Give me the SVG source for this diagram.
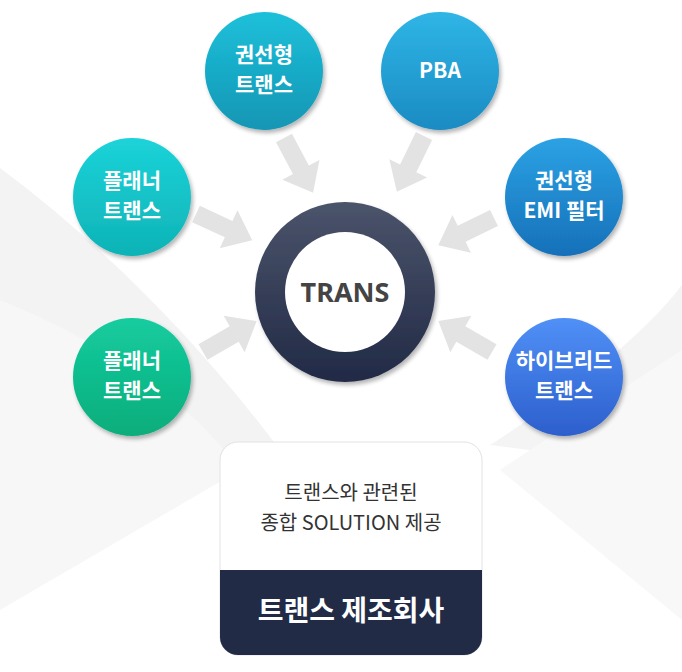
<svg xmlns="http://www.w3.org/2000/svg" width="682" height="672" viewBox="0 0 682 672">
<defs>
<style>
.lbl{font-family:"Noto Sans CJK KR","Noto Sans",sans-serif;font-weight:700;fill:#fff;font-size:21px;text-anchor:middle}
.sub{font-family:"Noto Sans CJK KR","Noto Sans",sans-serif;font-weight:400;fill:#333;font-size:20px;text-anchor:middle}
.arr{fill:#e3e3e3}
</style>
<linearGradient id="g1" x1="0" y1="0" x2="0" y2="1"><stop offset="0" stop-color="#1dc0da"/><stop offset="1" stop-color="#1396b4"/></linearGradient>
<linearGradient id="g2" x1="0" y1="0" x2="0" y2="1"><stop offset="0" stop-color="#2fb5e6"/><stop offset="1" stop-color="#1a8bc3"/></linearGradient>
<linearGradient id="g3" x1="0" y1="0" x2="0" y2="1"><stop offset="0" stop-color="#1bd3d9"/><stop offset="1" stop-color="#0eb3b6"/></linearGradient>
<linearGradient id="g4" x1="0" y1="0" x2="0" y2="1"><stop offset="0" stop-color="#15cc9f"/><stop offset="1" stop-color="#08ad7b"/></linearGradient>
<linearGradient id="g5" x1="0" y1="0" x2="0" y2="1"><stop offset="0" stop-color="#2ba2e4"/><stop offset="1" stop-color="#1670b9"/></linearGradient>
<linearGradient id="g6" x1="0" y1="0" x2="0" y2="1"><stop offset="0" stop-color="#5090f7"/><stop offset="1" stop-color="#2c5fcc"/></linearGradient>
<linearGradient id="gr" x1="0" y1="0" x2="0" y2="1"><stop offset="0" stop-color="#4b546b"/><stop offset="1" stop-color="#212a45"/></linearGradient>
<filter id="sh" x="-20%" y="-20%" width="150%" height="150%"><feGaussianBlur in="SourceAlpha" stdDeviation="2"/><feOffset dx="2" dy="3"/><feComponentTransfer><feFuncA type="linear" slope="0.3"/></feComponentTransfer><feMerge><feMergeNode/><feMergeNode in="SourceGraphic"/></feMerge></filter>
<path id="arrow" d="M0,-9 L36,-9 L36,-21 L62,0 L36,21 L36,9 L0,9 Z"/>
</defs>
<rect width="682" height="672" fill="#ffffff"/>
<g id="background">
<path d="M0,168 C90,235 190,330 280,450 L0,580 Z" fill="#f3f3f3"/>
<path d="M0,300 C100,340 190,400 240,470 L0,610 Z" fill="#f7f7f7"/>
<path d="M682,285 C640,340 560,400 490,445 L682,470 Z" fill="#f4f4f4"/>
<path d="M682,350 C620,390 560,430 500,470 L682,620 Z" fill="#f8f8f8"/>
</g>
<g id="connectors">
<use href="#arrow" class="arr" transform="translate(284,138) rotate(62)"/>
<use href="#arrow" class="arr" transform="translate(424,136) rotate(116)"/>
<use href="#arrow" class="arr" transform="translate(196,214) rotate(25)"/>
<use href="#arrow" class="arr" transform="translate(203,352) rotate(-30)"/>
<use href="#arrow" class="arr" transform="translate(494,218) rotate(154)"/>
<use href="#arrow" class="arr" transform="translate(492,352) rotate(-150)"/>
</g>
<g id="node-center">
<circle cx="345" cy="292" r="90" fill="url(#gr)" filter="url(#sh)"/>
<circle cx="345" cy="292" r="60" fill="#ffffff"/>
<text x="345" y="302" font-family="'Noto Sans','Open Sans',sans-serif" font-weight="700" font-size="27" fill="#444" text-anchor="middle">TRANS</text>
</g>
<g id="node-wound-trans">
<circle cx="264" cy="71" r="59" fill="url(#g1)" filter="url(#sh)"/>
<text class="lbl" x="264" y="62">권선형</text>
<text class="lbl" x="264" y="92">트랜스</text>
</g>
<g id="node-pba">
<circle cx="440" cy="71" r="59" fill="url(#g2)" filter="url(#sh)"/>
<text class="lbl" x="440" y="78">PBA</text>
</g>
<g id="node-planar-1">
<circle cx="132" cy="197" r="59" fill="url(#g3)" filter="url(#sh)"/>
<text class="lbl" x="132" y="188">플래너</text>
<text class="lbl" x="132" y="218">트랜스</text>
</g>
<g id="node-emi">
<circle cx="564" cy="197" r="59" fill="url(#g5)" filter="url(#sh)"/>
<text class="lbl" x="564" y="188">권선형</text>
<text class="lbl" x="564" y="218">EMI 필터</text>
</g>
<g id="node-planar-2">
<circle cx="132" cy="377" r="59" fill="url(#g4)" filter="url(#sh)"/>
<text class="lbl" x="132" y="368">플래너</text>
<text class="lbl" x="132" y="398">트랜스</text>
</g>
<g id="node-hybrid">
<circle cx="564" cy="377" r="59" fill="url(#g6)" filter="url(#sh)"/>
<text class="lbl" x="564" y="368">하이브리드</text>
<text class="lbl" x="564" y="398">트랜스</text>
</g>
<g id="node-company">
<rect x="220" y="442" width="262" height="213" rx="18" fill="#ffffff" stroke="#e2e2e2" stroke-width="1"/>
<path d="M220,570 L482,570 L482,637 A18,18 0 0 1 464,655 L238,655 A18,18 0 0 1 220,637 Z" fill="#212b46"/>
<text class="sub" x="351" y="500">트랜스와 관련된</text>
<text class="sub" x="351" y="530">종합 SOLUTION 제공</text>
<text x="351" y="621" font-family="'Noto Sans CJK KR',sans-serif" font-weight="700" font-size="28" fill="#fff" text-anchor="middle">트랜스 제조회사</text>
</g>
</svg>
